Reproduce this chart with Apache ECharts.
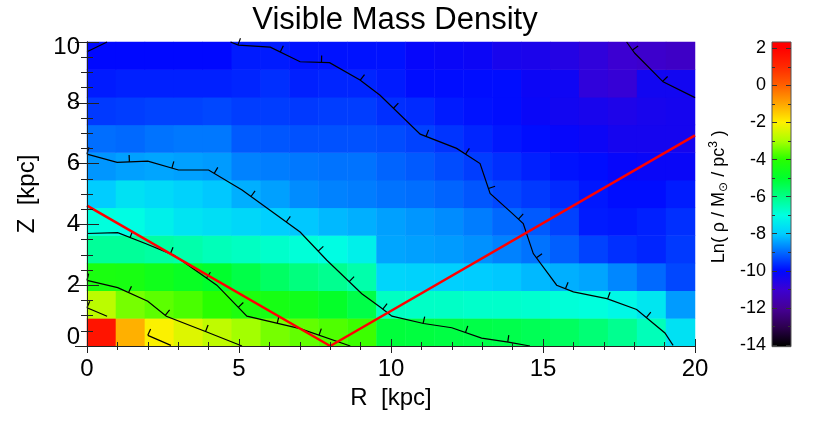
<!DOCTYPE html>
<html><head><meta charset="utf-8">
<script src="https://cdn.jsdelivr.net/npm/echarts@6/dist/echarts.min.js"></script>
<style>html,body{margin:0;padding:0;background:#fff}#c{width:830px;height:426px}</style>
</head><body><div id="c"></div>
<script>
// ---- categories (cell centres) ----
const rCells = ['0','1','2','3','4','5','6','7','8','9','10','11','12','13','14','15','16','17','18','19','20'];
const zCells = ['0','1','2','3','4','5','6','7','8','9','10'];

// ---- Ln(rho) per row (Z = 0 ... 10), columns R = 0 ... 20 ----
const lnRhoZ0  = [1.5,-1.15,-2.05,-2.4,-2.75,-3.05,-3.4,-3.55,-3.7,-3.85,-5.15,-5.2,-5.25,-5.3,-5.35,-5.45,-5.55,-5.8,-6.1,-6.55,-7.6];
const lnRhoZ1  = [-2.8,-3.4,-3.6,-3.75,-4.0,-4.3,-4.45,-4.6,-4.9,-5.3,-6.65,-6.7,-6.7,-6.75,-6.75,-6.8,-6.9,-6.95,-7.15,-7.5,-8.5];
const lnRhoZ2  = [-4.35,-4.4,-4.6,-4.8,-5.0,-5.3,-5.6,-5.9,-6.1,-6.4,-7.85,-7.9,-7.95,-8.0,-8.05,-8.2,-8.3,-8.4,-8.7,-9.0,-9.35];
const lnRhoZ3  = [-6.2,-6.2,-6.3,-6.4,-6.55,-6.65,-6.75,-6.9,-7.05,-7.3,-8.4,-8.45,-8.5,-8.6,-8.75,-8.9,-9.1,-9.4,-9.6,-9.7,-9.5];
const lnRhoZ4  = [-6.95,-7.05,-7.3,-7.55,-7.65,-7.8,-7.95,-8.05,-8.2,-8.3,-8.45,-8.55,-8.65,-8.8,-9.0,-9.15,-9.4,-9.8,-9.85,-9.75,-9.6];
const lnRhoZ5  = [-8.0,-7.6,-7.75,-7.9,-8.05,-8.3,-8.45,-8.65,-8.75,-8.8,-8.9,-8.95,-9.05,-9.2,-9.35,-9.5,-9.65,-9.85,-9.95,-9.95,-9.8];
const lnRhoZ6  = [-8.55,-8.45,-8.4,-8.45,-8.5,-8.75,-8.8,-8.85,-8.9,-8.9,-9.05,-9.15,-9.3,-9.45,-9.6,-9.75,-9.9,-9.95,-10.1,-10.15,-10.15];
const lnRhoZ7  = [-8.95,-9.0,-8.9,-8.85,-8.85,-9.15,-9.2,-9.25,-9.25,-9.25,-9.3,-9.4,-9.55,-9.7,-9.85,-9.95,-10.1,-10.2,-10.35,-10.35,-10.35];
const lnRhoZ8  = [-9.5,-9.45,-9.4,-9.4,-9.35,-9.45,-9.45,-9.5,-9.45,-9.45,-9.6,-9.65,-9.8,-9.9,-9.95,-10.15,-10.3,-10.4,-10.5,-10.4,-10.35];
const lnRhoZ9  = [-9.8,-9.75,-9.75,-9.75,-9.75,-9.7,-9.6,-9.75,-9.7,-9.7,-9.8,-9.95,-9.95,-9.95,-9.95,-10.2,-10.25,-10.8,-10.9,-10.3,-10.3];
const lnRhoZ10 = [-10.0,-10.0,-10.0,-10.0,-10.0,-9.8,-9.8,-9.9,-9.9,-9.9,-9.9,-10.1,-10.15,-10.2,-10.4,-10.45,-10.6,-10.8,-11.0,-11.1,-11.2];
const lnRhoRows = [lnRhoZ0,lnRhoZ1,lnRhoZ2,lnRhoZ3,lnRhoZ4,lnRhoZ5,lnRhoZ6,lnRhoZ7,lnRhoZ8,lnRhoZ9,lnRhoZ10];

// ---- colour scale ----
const cmapMin = -14, cmapMax = 2;
const cmapColors = ['#000000','#2d0050','#460096','#3c00d2','#0008ff','#0069ff','#00cdff','#00ffe1',
  '#00ff87','#00ff2d','#28ff00','#aaff00','#fff000','#ffa500','#ff5f00','#ff2800','#ff0000'];
const colorbarLow = -14.09, colorbarHigh = 2.34;

// ---- contour lines [R, Z] ----
const contourA = [[0,9.68],[0.66,10]];
const contourB = [[4.72,10],[4.98,9.9],[6.03,9.83],[7.01,9.35],[7.98,9.32],[8.98,8.75],[9.64,8.25],[10.96,6.97],[12.16,6.5],[12.93,6.0],[13.26,5.02],[13.97,4.38],[14.35,4.03],[14.68,3.04],[15.45,2.0],[16.0,1.78],[17.1,1.56],[18.08,1.2],[19.01,0.43],[19.28,0.02]];
const contourC = [[17.75,10],[18.02,9.63],[18.95,8.69],[20,8.17]];
const contourD = [[0,6.31],[0.99,6.04],[2.0,6.08],[3.01,5.79],[4.0,5.79],[5.1,5.13],[7.01,3.75],[7.89,2.82],[9.04,1.72],[9.64,1.28],[10.03,0.98],[11.07,0.74],[12.0,0.6],[12.98,0.26],[13.86,0.13],[14.57,0]];
const contourE = [[0,3.7],[1.01,3.73],[1.92,3.37],[2.85,2.99],[4.27,2.0],[5.26,0.98],[7.01,0.57],[8.66,0]];
const contourF = [[0,2.16],[1.01,1.92],[2.0,1.47],[2.61,0.98],[3.94,0.46],[5.1,0]];
const contourG = [[0,1.26],[0.66,0.98]];
const contourH = [[2.0,0.35],[2.76,0.02]];
const contours = [contourA,contourB,contourC,contourD,contourE,contourF,contourG,contourH];
const contourTickStart = [30,8,10,0,44,0,0,0];

// ---- red lines of sight ----
const sightR = [0, 8, 20];
const sightZ = [4.62, 0, 6.93];

// ---- axis ticks ----
const rMin = 0, rMax = 20, rStep = 5;
const zMin = 0, zMax = 10, zStep = 2;
const cbStep = 2;

// ================= build =================
const FONT = "'Liberation Sans', Arial, Helvetica, sans-serif";
const heatData = [];
lnRhoRows.forEach((row, j) => row.forEach((v, i) => heatData.push([i, j, v])));

function tickMarks(pts, start, step, len){
  const out = []; let next = start, acc = 0;
  for (let s = 0; s < pts.length - 1; s++) {
    const x0 = pts[s][0], y0 = pts[s][1], x1 = pts[s+1][0], y1 = pts[s+1][1];
    const dx = x1 - x0, dy = y1 - y0, L = Math.hypot(dx, dy);
    if (!L) continue;
    while (next <= acc + L) {
      const t = (next - acc) / L;
      const px = x0 + dx*t, py = y0 + dy*t;
      const nx = dy / L, ny = -dx / L;
      out.push({type:'line', shape:{x1:px, y1:py, x2:px + nx*len, y2:py + ny*len},
        style:{stroke:'#000', lineWidth:1.2}});
      next += step;
    }
    acc += L;
  }
  return out;
}

const stops = [{offset:0, color:cmapColors[0]}];
cmapColors.forEach((c, k) => {
  const v = cmapMin + k;
  stops.push({offset:(v - colorbarLow)/(colorbarHigh - colorbarLow), color:c});
});
stops.push({offset:1, color:cmapColors[cmapColors.length-1]});

const axisLineStyle = {color:'#222', width:1};
const yLabelRich = {
  lo:{fontSize:24, color:'#000', fontFamily:FONT, padding:[0,0,17,0]},
  hi:{fontSize:24, color:'#000', fontFamily:FONT, padding:[10,0,0,0]}
};
const chart = echarts.init(document.getElementById('c'), null, {renderer:'canvas'});
chart.setOption({
  animation:false,
  backgroundColor:'#fff',
  textStyle:{fontFamily:FONT},
  title:{text:'Visible Mass Density', left:390, top:0, textAlign:'center',
    textStyle:{fontFamily:FONT, fontSize:31, fontWeight:'normal', color:'#000'}},
  grid:[
    {left:87, top:42, width:608, height:304},
    {left:772, top:48.3, width:19, height:296.7}
  ],
  xAxis:[
    {gridIndex:0, type:'value', min:rMin, max:rMax, interval:rStep, position:'bottom', z:10,
      axisLine:{show:true, lineStyle:axisLineStyle}, splitLine:{show:false},
      axisTick:{show:true, inside:true, length:7, lineStyle:axisLineStyle},
      minorTick:{show:true, splitNumber:5, length:4, lineStyle:axisLineStyle},
      axisLabel:{fontSize:24, color:'#000', margin:11, fontFamily:FONT},
      name:'R  [kpc]', nameLocation:'middle', nameGap:40,
      nameTextStyle:{fontSize:24, color:'#000', fontFamily:FONT}},
    {gridIndex:0, type:'value', min:rMin, max:rMax, interval:rStep, position:'top', z:10,
      axisLine:{show:true, lineStyle:axisLineStyle}, splitLine:{show:false},
      axisTick:{show:true, inside:true, length:7, lineStyle:axisLineStyle},
      minorTick:{show:true, splitNumber:5, length:4, lineStyle:axisLineStyle},
      axisLabel:{show:false}},
    {gridIndex:0, type:'category', data:rCells, show:false, boundaryGap:true},
    {gridIndex:1, type:'value', min:0, max:1, show:false}
  ],
  yAxis:[
    {gridIndex:0, type:'value', min:zMin, max:zMax, interval:zStep, position:'left', z:10,
      axisLine:{show:true, lineStyle:axisLineStyle}, splitLine:{show:false},
      axisTick:{show:true, inside:true, length:12, lineStyle:axisLineStyle},
      minorTick:{show:true, splitNumber:4, length:6, lineStyle:axisLineStyle},
      axisLabel:{fontSize:24, color:'#000', margin:7, fontFamily:FONT, rich:yLabelRich,
        formatter:function(v){ return v === zMin ? '{lo|' + v + '}' : (v === zMax ? '{hi|' + v + '}' : String(v)); }},
      name:'Z  [kpc]', nameLocation:'middle', nameGap:48,
      nameTextStyle:{fontSize:24, color:'#000', fontFamily:FONT}},
    {gridIndex:0, type:'value', min:zMin, max:zMax, interval:zStep, position:'right', z:10,
      axisLine:{show:true, lineStyle:axisLineStyle}, splitLine:{show:false},
      axisTick:{show:true, inside:true, length:12, lineStyle:axisLineStyle},
      minorTick:{show:true, splitNumber:4, length:6, lineStyle:axisLineStyle},
      axisLabel:{show:false}},
    {gridIndex:0, type:'category', data:zCells, show:false, boundaryGap:true},
    {gridIndex:1, type:'value', min:cmapMin, max:cmapMax, interval:cbStep, position:'left', z:10,
      axisLine:{show:false}, splitLine:{show:false},
      axisTick:{show:true, inside:true, length:5, lineStyle:{color:'#333'}},
      minorTick:{show:true, splitNumber:2, length:3, lineStyle:{color:'#333'}},
      axisLabel:{fontSize:18, color:'#000', margin:6, fontFamily:FONT},
      name:'Ln( ρ / M{sub|⊙} / pc{sup|3} )', nameLocation:'middle', nameGap:42, nameRotate:90,
      nameTextStyle:{fontSize:18, color:'#000', fontFamily:FONT, lineHeight:22,
        rich:{sub:{fontSize:12, verticalAlign:'bottom', fontFamily:'DejaVu Sans', lineHeight:22, color:'#000'},
              sup:{fontSize:12, verticalAlign:'top', fontFamily:FONT, lineHeight:22, color:'#000'}}}},
    {gridIndex:1, type:'value', min:cmapMin, max:cmapMax, interval:cbStep, position:'right', z:10,
      axisLine:{show:false}, splitLine:{show:false},
      axisTick:{show:true, inside:true, length:5, lineStyle:{color:'#333'}},
      minorTick:{show:true, splitNumber:2, length:3, lineStyle:{color:'#333'}},
      axisLabel:{show:false}}
  ],
  visualMap:{type:'continuous', show:false, seriesIndex:0, dimension:2,
    min:cmapMin, max:cmapMax, inRange:{color:cmapColors}},
  series:[
    {type:'heatmap', xAxisIndex:2, yAxisIndex:2, data:heatData, z:1, silent:true,
      itemStyle:{borderWidth:0}, progressive:0},
    {type:'custom', xAxisIndex:0, yAxisIndex:0, z:3, silent:true,
      data:contours.map((c,k)=>[k]),
      renderItem:function(params, api){
        const k = params.dataIndex;
        const pts = contours[k].map(p => api.coord(p));
        return {type:'group', children:[
          {type:'polyline', shape:{points:pts}, style:{stroke:'#000', lineWidth:1.2, fill:null}}
        ].concat(tickMarks(pts, contourTickStart[k], 43.5, 7))};
      }},
    {type:'line', xAxisIndex:0, yAxisIndex:0, z:4, silent:true, symbol:'none',
      data:sightR.map((r,k)=>[r, sightZ[k]]),
      lineStyle:{color:'#ff0000', width:2.5}},
    {type:'custom', xAxisIndex:3, yAxisIndex:3, z:1, silent:true,
      data:[[0, colorbarLow, 1, colorbarHigh]],
      renderItem:function(params, api){
        const p0 = api.coord([api.value(0), api.value(3)]);
        const p1 = api.coord([api.value(2), api.value(1)]);
        return {type:'rect', shape:{x:p0[0], y:p0[1], width:p1[0]-p0[0], height:p1[1]-p0[1]},
          style:{fill:new echarts.graphic.LinearGradient(0,1,0,0,stops), stroke:'#555', lineWidth:1}};
      }}
  ]
});
</script></body></html>
